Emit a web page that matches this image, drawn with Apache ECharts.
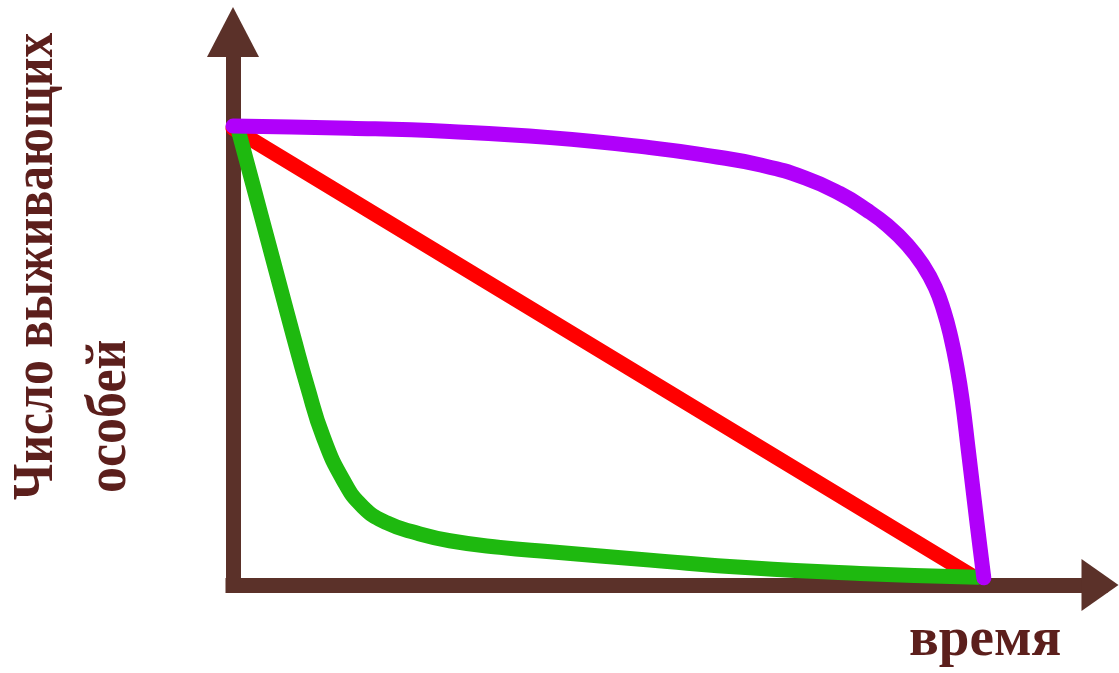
<!DOCTYPE html>
<html>
<head>
<meta charset="utf-8">
<script src="https://cdn.jsdelivr.net/npm/echarts@6/dist/echarts.min.js"></script>
<style>
html,body{margin:0;padding:0;background:#fff;}
#chart{width:1119px;height:673px;}
</style>
</head>
<body>
<div id="chart"></div>
<script>
// Survival curves: [time, survivors] in arbitrary units (0..100)
const typeLinear = [[0, 82.6], [85.3, 1.6]];
const typeConvex = [
  [0, 83.0], [13.5, 82.6], [25.0, 82.0], [36.6, 80.9], [48.1, 79.1],
  [55.0, 77.6], [61.0, 75.9], [66.0, 73.6], [70.0, 70.8], [73.0, 67.9],
  [75.5, 65.0], [77.8, 61.5], [79.6, 57.8], [81.0, 53.8], [82.0, 49.5],
  [82.8, 44.8], [83.5, 39.4], [84.1, 33.5], [84.8, 24.5], [85.5, 15.3],
  [86.2, 6.3], [86.6, 1.3]
];
const typeConcave = [
  [0.6, 82.3], [2.5, 71.2], [4.0, 62.4], [5.5, 53.6], [7.0, 44.8],
  [8.6, 35.8], [10.4, 26.8], [12.7, 19.0], [15.0, 14.1], [17.8, 11.2],
  [21.2, 9.4], [25.0, 8.0], [30.8, 6.8], [36.6, 6.0], [48.1, 4.5],
  [59.6, 3.1], [72.3, 2.1], [85.9, 1.4]
];
const yTitleLines = ['Число выживающих', 'особей'];
const xTitle = 'время';

const axisColor = '#5b3129';
const textColor = '#5c1f1c';
const chart = echarts.init(document.getElementById('chart'), null, {renderer: 'canvas'});
chart.setOption({
  backgroundColor: '#ffffff',
  animation: false,
  grid: {left: 233, right: 19, top: 32, bottom: 88, containLabel: false},
  xAxis: {
    type: 'value', min: 0, max: 100,
    axisLine: {show: true, onZero: false, symbol: ['none', 'triangle'], symbolSize: [52, 37],
      lineStyle: {color: axisColor, width: 15, cap: 'square'}},
    axisTick: {show: false}, axisLabel: {show: false}, splitLine: {show: false}
  },
  yAxis: {
    type: 'value', min: 0, max: 100,
    axisLine: {show: true, onZero: false, symbol: ['none', 'triangle'], symbolSize: [52, 50],
      lineStyle: {color: axisColor, width: 15, cap: 'square'}},
    axisTick: {show: false}, axisLabel: {show: false}, splitLine: {show: false}
  },
  series: [
    {type: 'line', data: typeLinear, showSymbol: false, smooth: false,
      lineStyle: {color: '#ff0000', width: 15, cap: 'round'}},
    {type: 'line', data: typeConcave, showSymbol: false, smooth: 0.5,
      lineStyle: {color: '#1eb90f', width: 15, cap: 'round', join: 'round'}},
    {type: 'line', data: typeConvex, showSymbol: false, smooth: 0.5,
      lineStyle: {color: '#b000fa', width: 15, cap: 'round', join: 'round'}}
  ],
  graphic: [
    {type: 'text', x: 37, y: 500, rotation: Math.PI / 2, scaleX: 0.955, scaleY: 1.08,
      style: {text: yTitleLines[0], font: 'bold 52px "Liberation Serif"', fill: textColor,
        align: 'left', verticalAlign: 'middle'}},
    {type: 'text', x: 110, y: 493, rotation: Math.PI / 2, scaleY: 1.08,
      style: {text: yTitleLines[1], font: 'bold 52px "Liberation Serif"', fill: textColor,
        align: 'left', verticalAlign: 'middle'}},
    {type: 'text', x: 909, y: 641, scaleX: 1.06, scaleY: 1.04,
      style: {text: xTitle, font: 'bold 52px "Liberation Serif"', fill: textColor,
        align: 'left', verticalAlign: 'middle'}}
  ]
});
</script>
</body>
</html>
